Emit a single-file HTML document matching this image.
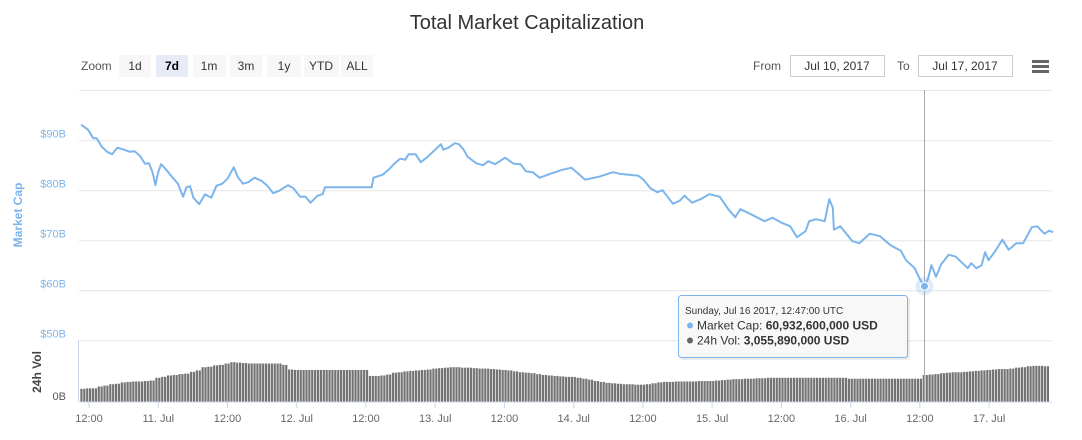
<!DOCTYPE html>
<html><head><meta charset="utf-8">
<style>
body{margin:0;background:#fff;font-family:"Liberation Sans",Arial,sans-serif;}
#wrap{position:relative;width:1082px;height:440px;overflow:hidden;}
svg text{font-family:"Liberation Sans",Arial,sans-serif;}
</style></head>
<body>
<div id="wrap">
<svg id="chart" width="1082" height="440" xmlns="http://www.w3.org/2000/svg">
  <text x="527" y="29" text-anchor="middle" font-size="20" fill="#333">Total Market Capitalization</text>
  <g>
    <text x="81" y="70" font-size="12" fill="#555">Zoom</text>
    <g><rect x="119" y="55" width="32" height="22" fill="#f7f7f7"/><text x="135" y="70" font-size="12" fill="#333" text-anchor="middle">1d</text></g>
    <g><rect x="156" y="55" width="32" height="22" fill="#e6ebf5"/><text x="172" y="70" font-size="12" fill="#000" font-weight="bold" text-anchor="middle">7d</text></g>
    <g><rect x="193" y="55" width="33" height="22" fill="#f7f7f7"/><text x="209" y="70" font-size="12" fill="#333" text-anchor="middle">1m</text></g>
    <g><rect x="230" y="55" width="32" height="22" fill="#f7f7f7"/><text x="246" y="70" font-size="12" fill="#333" text-anchor="middle">3m</text></g>
    <g><rect x="267" y="55" width="34" height="22" fill="#f7f7f7"/><text x="284" y="70" font-size="12" fill="#333" text-anchor="middle">1y</text></g>
    <g><rect x="304" y="55" width="35" height="22" fill="#f7f7f7"/><text x="321" y="70" font-size="12" fill="#333" text-anchor="middle">YTD</text></g>
    <g><rect x="341" y="55" width="32" height="22" fill="#f7f7f7"/><text x="357" y="70" font-size="12" fill="#333" text-anchor="middle">ALL</text></g>
  </g>
  <text x="753" y="70" font-size="12" fill="#555">From</text>
  <g><rect x="790.5" y="55.5" width="94" height="21" fill="#fff" stroke="#ccc"/><text x="837" y="70" font-size="12" fill="#333" text-anchor="middle">Jul 10, 2017</text></g>
  <text x="897" y="70" font-size="12" fill="#555">To</text>
  <g><rect x="918.5" y="55.5" width="94" height="21" fill="#fff" stroke="#ccc"/><text x="965" y="70" font-size="12" fill="#333" text-anchor="middle">Jul 17, 2017</text></g>
  <g>
    <rect x="1032" y="60" width="17" height="3" fill="#666"/><rect x="1032" y="65" width="17" height="3" fill="#666"/><rect x="1032" y="70" width="17" height="3" fill="#666"/>
  </g>
  <g id="grid"></g>
  <g id="vol"></g>
  <g id="line"></g>
  <g id="axes"></g>
  <g id="hover"></g>
</svg>
</div>
<script>
// Market cap series (hours since Jul 10 12:00 UTC, billions USD)
const capHours = [-1.37,-0.18,0.72,1.31,2.21,3.11,4.0,4.9,6.1,7.0,7.9,8.8,9.7,10.4,11.0,11.5,12.0,12.5,13.6,14.5,15.4,16.3,16.9,17.5,18.1,19.1,20.1,21.2,22.1,23.1,24.0,25.1,25.8,26.7,27.6,28.7,30.0,30.9,31.9,33.0,33.9,34.5,35.4,36.6,37.5,38.4,39.6,40.5,40.9,49.0,49.3,50.9,52.1,53.0,53.9,54.8,55.4,56.6,57.5,58.7,59.9,61.0,61.4,62.3,63.4,64.1,65.0,65.6,67.1,68.3,69.2,70.4,72.1,73.6,74.8,75.7,76.9,78.1,80.0,81.8,83.6,84.5,86.0,88.4,90.8,91.9,95.2,96.1,97.3,98.5,99.4,101.2,102.4,103.2,104.5,106.0,107.5,109.3,110.8,112.0,112.9,114.7,115.9,117.1,118.5,120.0,121.5,122.7,124.2,124.8,126.0,127.5,128.3,128.9,129.1,130.2,131.4,132.3,133.5,135.3,137.1,138.9,140.7,141.6,143.1,144.0,144.8,145.4,146.0,146.8,147.7,149.0,150.2,151.4,152.3,152.9,153.8,154.7,155.3,155.9,157.1,158.3,159.4,160.7,161.9,163.4,164.3,164.9,165.6,166.4,167.1];
const capValues = [93.2,92.2,90.5,90.5,88.8,87.8,87.3,88.6,88.2,87.8,87.9,87.0,85.4,85.5,83.7,81.1,83.7,85.3,83.9,82.6,81.4,78.8,80.7,80.9,78.6,77.3,79.3,78.6,81.0,81.4,82.4,84.7,82.7,81.4,81.7,82.6,81.9,81.0,79.5,80.0,80.7,81.1,80.5,78.8,78.8,77.6,79.0,79.3,80.7,80.7,82.6,83.2,84.4,85.5,86.4,86.2,87.3,87.3,85.7,86.8,88.1,89.3,88.2,88.6,89.5,89.3,88.1,86.8,85.5,85.1,85.9,85.3,86.6,85.4,85.3,83.9,83.7,82.6,83.4,84.1,84.6,83.7,82.2,82.8,83.7,83.4,83.0,82.2,80.5,79.7,80.1,77.4,78.0,79.0,77.6,78.3,79.3,78.8,76.3,74.7,76.3,75.3,74.6,73.9,74.6,73.6,72.9,70.7,71.9,73.9,74.3,73.9,78.3,76.6,72.2,72.9,71.2,69.9,69.5,71.4,70.9,69.1,68.0,66.1,64.5,62.3,60.9,62.4,65.1,62.8,65.3,67.2,66.8,65.5,64.5,65.5,64.5,65.1,67.7,66.1,68.0,70.2,68.2,69.5,69.5,72.7,72.9,72.2,71.4,72.0,71.7];
// 24h volume, hourly from t=-1
const volStart = -1;
const volValues = [2.8,2.9,2.9,3.3,3.5,3.8,3.9,4.2,4.3,4.4,4.4,4.5,4.6,5.2,5.4,5.7,5.8,6.0,6.1,6.5,6.8,7.5,7.6,7.9,8.0,8.3,8.6,8.5,8.4,8.3,8.3,8.3,8.3,8.3,8.3,8.0,7.0,6.9,6.9,6.9,6.9,6.9,6.9,6.9,6.9,6.9,6.9,6.9,6.9,6.9,5.6,5.6,5.7,5.9,6.3,6.4,6.6,6.7,6.8,6.9,7.0,7.2,7.3,7.4,7.5,7.5,7.4,7.4,7.3,7.2,7.2,7.1,7.0,6.9,6.8,6.6,6.4,6.3,6.2,6.0,5.8,5.7,5.6,5.5,5.4,5.4,5.2,5.0,4.8,4.5,4.3,4.1,4.0,3.9,3.8,3.8,3.7,3.7,3.8,4.0,4.2,4.3,4.3,4.4,4.4,4.4,4.4,4.5,4.5,4.5,4.6,4.7,4.8,4.9,4.9,5.0,5.0,5.1,5.1,5.2,5.2,5.2,5.2,5.2,5.2,5.2,5.2,5.2,5.2,5.2,5.2,5.2,5.2,5.0,5.0,5.0,5.0,5.0,5.0,5.0,5.0,5.0,5.0,5.0,5.0,5.0,5.8,5.9,6.0,6.2,6.3,6.4,6.4,6.5,6.6,6.7,6.8,6.9,7.0,7.1,7.1,7.2,7.4,7.5,7.7,7.8,7.8,7.7];
const capTicks = [50,60,70,80,90];
const xTickHours = [0,12,24,36,48,60,72,84,96,108,120,132,144,156];
const xTickLabels = ["12:00","11. Jul","12:00","12. Jul","12:00","13. Jul","12:00","14. Jul","12:00","15. Jul","12:00","16. Jul","12:00","17. Jul"];
const hoverIndex = 126;

const NS="http://www.w3.org/2000/svg";
const L=79,R=1052;
function x(t){return 89+t*5.77;}
function yc(v){return 140.7+(90-v)*5;}
function yv(v){return 401.7-v*4.6;}
function mk(tag,attrs,parent){const e=document.createElementNS(NS,tag);for(const k in attrs)e.setAttribute(k,attrs[k]);parent.appendChild(e);return e;}
const grid=document.getElementById('grid'),vol=document.getElementById('vol'),line=document.getElementById('line'),axes=document.getElementById('axes'),hov=document.getElementById('hover');

const topLine=mk('line',{x1:L,x2:R,y1:90.5,y2:90.5,stroke:'#e6e6e6'},grid);


capTicks.forEach(v=>{
  const g=mk('line',{x1:L,x2:R,y1:yc(v),y2:yc(v),stroke:'#e6e6e6','stroke-width':1},grid);
  
  
  const t=mk('text',{x:66,y:yc(v)-3,'text-anchor':'end','font-size':11,fill:'#7cb5ec'},axes);
  t.textContent='$'+v+'B';
  
  
});
const yt=mk('text',{transform:'translate(22,215) rotate(-90)','text-anchor':'middle','font-size':12,'font-weight':'bold',fill:'#7cb5ec'},axes);
yt.textContent='Market Cap';


const vt=mk('text',{transform:'translate(41,372) rotate(-90)','text-anchor':'middle','font-size':12,'font-weight':'bold',fill:'#444'},axes);
vt.textContent='24h Vol';


const zb=mk('text',{x:66,y:400,'text-anchor':'end','font-size':11,fill:'#555'},axes);
zb.textContent='0B';


const va=mk('line',{x1:78.5,x2:78.5,y1:340,y2:402,stroke:'#ccd6eb'},axes);



volValues.forEach((v,i)=>{
  const t=volStart+i;
  [-0.5,0].forEach(off=>{
    const xx=x(t+off);
    if(xx<L||xx>R-1)return;
    const b=mk('rect',{x:xx,y:yv(v),width:2.2,height:401.7-yv(v),fill:'#737373'},vol);
    
    
  });
});
const base=mk('line',{x1:L,x2:R,y1:402,y2:402,stroke:'#ccd6eb'},axes);


xTickHours.forEach((h,i)=>{
  const tk=mk('line',{x1:x(h),x2:x(h),y1:402,y2:408,stroke:'#ccd6eb'},axes);
  
  
  const tx=mk('text',{x:x(h),y:422,'text-anchor':'middle','font-size':11,fill:'#666'},axes);
  tx.textContent=xTickLabels[i];
  
  
});

let d='';
capHours.forEach((t,i)=>{d+=(i?'L':'M')+x(t).toFixed(1)+','+yc(capValues[i]).toFixed(1);});
const p=mk('path',{d:d,fill:'none',stroke:'#7cb5ec','stroke-width':2,'stroke-linejoin':'round'},line);



const hx=x(capHours[hoverIndex]),hy=yc(capValues[hoverIndex]);
const ch=mk('line',{x1:hx,x2:hx,y1:90,y2:402,stroke:'#aaa'},hov);


const halo=mk('circle',{cx:hx,cy:hy,r:9,fill:'#7cb5ec','fill-opacity':0.25},hov);


const dot=mk('circle',{cx:hx,cy:hy,r:4,fill:'#7cb5ec',stroke:'#fff','stroke-width':1},hov);



const tg=mk('g',{},hov);


mk('rect',{x:680,y:297,width:230,height:63,fill:'#000','fill-opacity':0.08,rx:3},tg);
mk('rect',{x:678.5,y:295.5,width:229,height:62,fill:'#f9f9f9','fill-opacity':0.95,stroke:'#7cb5ec',rx:3},tg);
const t1=mk('text',{x:685,y:314,'font-size':10,fill:'#333'},tg);
t1.textContent='Sunday, Jul 16 2017, 12:47:00 UTC';
mk('circle',{cx:690,cy:325.5,r:3,fill:'#7cb5ec'},tg);
const t2=mk('text',{x:697,y:329.5,'font-size':12,fill:'#333'},tg);
t2.innerHTML='Market Cap: <tspan font-weight="bold">60,932,600,000 USD</tspan>';
mk('circle',{cx:690,cy:340.5,r:3,fill:'#666'},tg);
const t3=mk('text',{x:697,y:344.5,'font-size':12,fill:'#333'},tg);
t3.innerHTML='24h Vol: <tspan font-weight="bold">3,055,890,000 USD</tspan>';
</script>
</body></html>
